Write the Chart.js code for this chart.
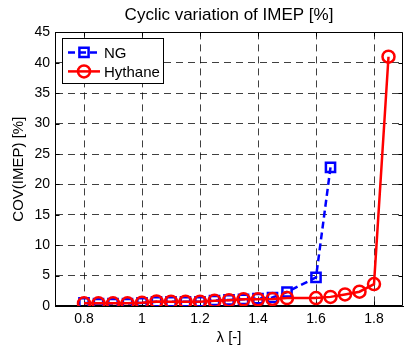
<!DOCTYPE html>
<html>
<head>
<meta charset="utf-8">
<script src="https://cdn.jsdelivr.net/npm/chart.js@4"></script>
<style>
html,body{margin:0;padding:0;background:#fff;}
#c{display:block;}
</style>
</head>
<body>
<canvas id="c" width="404" height="350"></canvas>
<script>
// ---- data ----
const ngLambda = [0.80,0.85,0.90,0.95,1.00,1.05,1.10,1.15,1.20,1.25,1.30,1.35,1.40,1.45,1.50,1.60,1.65];
const ngCov    = [0.5, 0.4, 0.4, 0.4, 0.5, 0.7, 0.7, 0.7, 0.7, 0.9, 1.0, 1.1, 1.2, 1.4, 2.3, 4.7, 22.8];
const hyLambda = [0.80,0.85,0.90,0.95,1.00,1.05,1.10,1.15,1.20,1.25,1.30,1.35,1.40,1.45,1.50,1.60,1.65,1.70,1.75,1.80,1.85];
const hyCov    = [0.45,0.45,0.45,0.45,0.55,0.75,0.7, 0.7, 0.7, 0.85,0.95,1.1, 1.1, 1.15,1.3, 1.3, 1.5, 1.9, 2.35,3.6, 41.0];
const xTicks = [0.8,1.0,1.2,1.4,1.6,1.8];
const seriesLabels = ['NG','Hythane'];
const titleText = 'Cyclic variation of IMEP [%]';
const xTitle = 'λ [-]';
const yTitle = 'COV(IMEP) [%]';

const FONT = 'Liberation Sans, Arial, Helvetica, sans-serif';
const toPts = (xs, ys) => xs.map((x,i)=>({x:x, y:ys[i]}));

const framePlugin = {
  id:'frame',
  beforeDatasetsDraw(chart){
    const {ctx, chartArea:a, scales} = chart;
    ctx.save();
    ctx.strokeStyle = '#000';
    ctx.lineWidth = 1;
    ctx.beginPath();
    const L = Math.round(a.left)+0.5, R = Math.round(a.right)-0.5, T = Math.round(a.top)+0.5, B = Math.round(a.bottom)-0.5;
    ctx.rect(L, T, R-L, B-T);
    const tl = 4;
    scales.x.ticks.forEach(t=>{
      const px = Math.round(scales.x.getPixelForValue(t.value))+0.5;
      ctx.moveTo(px,B); ctx.lineTo(px,B-tl);
      ctx.moveTo(px,T); ctx.lineTo(px,T+tl);
    });
    scales.y.ticks.forEach(t=>{
      const py = Math.round(scales.y.getPixelForValue(t.value))+0.5;
      ctx.moveTo(L,py); ctx.lineTo(L+tl,py);
      ctx.moveTo(R,py); ctx.lineTo(R-tl,py);
    });
    ctx.stroke();
    ctx.restore();
  }
};

const legendPlugin = {
  id:'boxLegend',
  afterDraw(chart){
    const ctx = chart.ctx;
    const a = chart.chartArea;
    const x0 = a.left + 7, y0 = a.top + 6, w = 101, h = 45;
    ctx.save();
    ctx.fillStyle = '#fff';
    ctx.fillRect(x0, y0, w, h);
    ctx.strokeStyle = '#000';
    ctx.lineWidth = 1;
    ctx.strokeRect(Math.round(x0)+0.5, Math.round(y0)+0.5, w, h);
    const rows = [y0+14, y0+33];
    chart.data.datasets.forEach((ds, i)=>{
      const y = rows[i];
      ctx.strokeStyle = ds.borderColor;
      ctx.lineWidth = ds.borderWidth;
      ctx.setLineDash(ds.borderDash || []);
      ctx.beginPath();
      ctx.moveTo(x0+6, y); ctx.lineTo(x0+38, y);
      ctx.stroke();
      ctx.setLineDash([]);
      ctx.lineWidth = ds.pointBorderWidth;
      ctx.beginPath();
      const mx = x0+22;
      if (ds.pointStyle === 'rect') {
        const s = ds.pointRadius*Math.SQRT1_2;
        ctx.rect(mx-s, y-s, 2*s, 2*s);
      } else {
        ctx.arc(mx, y, ds.pointRadius, 0, Math.PI*2);
      }
      ctx.stroke();
      ctx.fillStyle = '#000';
      ctx.font = '15px ' + FONT;
      ctx.textBaseline = 'middle';
      ctx.textAlign = 'left';
      ctx.fillText(ds.label, x0+42, y+1);
    });
    ctx.restore();
  }
};

const gridCommon = {
  color: 'rgba(0,0,0,0.75)',
  lineWidth: 1,
  drawTicks: false,
  tickLength: 0
};

new Chart(document.getElementById('c'), {
  type: 'line',
  data: {
    datasets: [
      {
        label: seriesLabels[0],
        data: toPts(ngLambda, ngCov),
        borderColor: '#0000ff',
        backgroundColor: 'rgba(0,0,0,0)',
        borderWidth: 2.5,
        borderDash: [7,4],
        pointStyle: 'rect',
        pointRadius: 6.5,
        pointBorderWidth: 2.5,
        pointBackgroundColor: 'rgba(0,0,0,0)',
        pointBorderColor: '#0000ff',
        tension: 0,
        order: 2
      },
      {
        label: seriesLabels[1],
        data: toPts(hyLambda, hyCov),
        borderColor: '#ff0000',
        backgroundColor: 'rgba(0,0,0,0)',
        borderWidth: 2.5,
        pointStyle: 'circle',
        pointRadius: 6,
        pointBorderWidth: 2.5,
        pointBackgroundColor: 'rgba(0,0,0,0)',
        pointBorderColor: '#ff0000',
        tension: 0,
        order: 1
      }
    ]
  },
  options: {
    responsive: false,
    devicePixelRatio: 1,
    animation: false,
    events: [],
    layout: { autoPadding: false, padding: { left: 7, right: 1, top: 0, bottom: 3 } },
    plugins: {
      legend: { display: false },
      tooltip: { enabled: false },
      title: {
        display: true,
        fullSize: false,
        text: titleText,
        color: '#000',
        font: { family: FONT, size: 17, weight: 'normal' },
        padding: { top: 5, bottom: 7 }
      }
    },
    scales: {
      x: {
        type: 'linear',
        min: 0.7, max: 1.9,
        afterBuildTicks: s => { s.ticks = xTicks.map(v=>({value:v})); },
        afterFit: s => { s.height = 41; s.paddingLeft = 0; s.paddingRight = 0; },
        ticks: {
          color: '#000',
          font: { family: FONT, size: 14 },
          padding: 5,
          maxRotation: 0,
          autoSkip: false,
          callback: v => String(+Number(v).toFixed(2))
        },
        grid: Object.assign({ borderDash: [7,5] }, gridCommon),
        border: { display: true, color: '#000', width: 1, dash: [7,5] },
        title: {
          display: true, text: xTitle, color: '#000',
          font: { family: FONT, size: 15 },
          padding: { top: 0, bottom: 0 }
        }
      },
      y: {
        min: 0, max: 45,
        ticks: {
          stepSize: 5,
          color: '#000',
          font: { family: FONT, size: 14 },
          padding: 5
        },
        afterFit: s => { s.width = 48; s.paddingTop = 0; s.paddingBottom = 0; },
        grid: gridCommon,
        border: { display: true, color: '#000', width: 1, dash: [7,5] },
        title: {
          display: true, text: yTitle, color: '#000',
          font: { family: FONT, size: 15 },
          padding: { top: 3, bottom: 0 }
        }
      }
    }
  },
  plugins: [framePlugin, legendPlugin]
});
</script>
</body>
</html>
